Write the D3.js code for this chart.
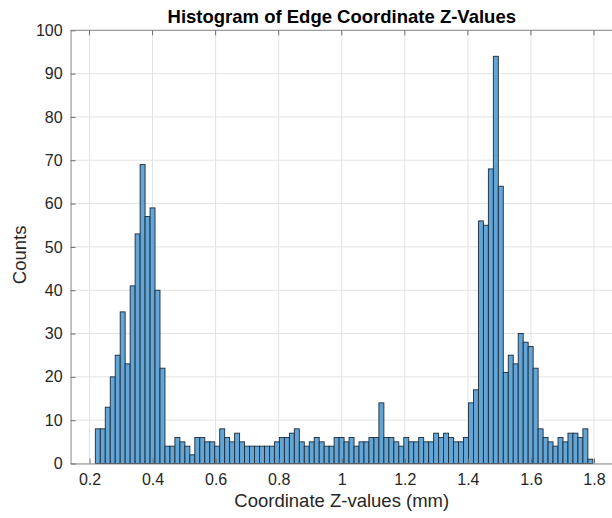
<!DOCTYPE html>
<html>
<head>
<meta charset="utf-8">
<script src="https://cdn.jsdelivr.net/npm/d3@7"></script>
<style>
  html, body { margin: 0; padding: 0; background: #fff; }
  svg { display: block; font-family: "Liberation Sans", Arial, Helvetica, sans-serif; }
</style>
</head>
<body>
<svg id="chart" width="612" height="518"></svg>
<script>
// Histogram bin counts (100 equal-width bins)
const counts = [
  8, 8, 13, 20, 25, 35, 23, 41, 53, 69,
  57, 59, 40, 22, 4, 4, 6, 5, 4, 2,
  6, 6, 5, 5, 4, 8, 6, 5, 7, 5,
  4, 4, 4, 4, 4, 4, 5, 6, 6, 7,
  8, 5, 4, 5, 6, 5, 4, 4, 6, 6,
  5, 6, 4, 5, 5, 6, 6, 14, 6, 6,
  5, 4, 6, 5, 5, 6, 5, 5, 7, 6,
  7, 6, 5, 5, 6, 14, 17, 56, 55, 68,
  94, 64, 21, 25, 23, 30, 28, 27, 22, 8,
  6, 5, 4, 6, 5, 7, 7, 6, 8, 1
];
const binStart = 0.2184;
const binWidth = 0.01578;
const xTicks = [0.2, 0.4, 0.6, 0.8, 1, 1.2, 1.4, 1.6, 1.8];
const yTicks = [0, 10, 20, 30, 40, 50, 60, 70, 80, 90, 100];
const xDomain = [0.14, 1.86];
const yDomain = [0, 100];

const bins = counts.map((c, i) => ({
  x0: binStart + i * binWidth,
  x1: binStart + (i + 1) * binWidth,
  count: c
}));

const svg = d3.select("#chart");
const plot = { left: 70.6, right: 612.9, top: 30.3, bottom: 463.5 };

const x = d3.scaleLinear().domain(xDomain).range([plot.left, plot.right]);
const y = d3.scaleLinear().domain(yDomain).range([plot.bottom, plot.top]);

// grid
const grid = svg.append("g").attr("stroke", "#e3e3e3").attr("stroke-width", 1);
grid.selectAll("line.vx").data(xTicks).join("line")
  .attr("x1", d => x(d)).attr("x2", d => x(d))
  .attr("y1", plot.top).attr("y2", plot.bottom);
grid.selectAll("line.hy").data(yTicks).join("line")
  .attr("x1", plot.left).attr("x2", plot.right)
  .attr("y1", d => y(d)).attr("y2", d => y(d));

// bars
svg.append("g").selectAll("rect").data(bins).join("rect")
  .attr("x", d => x(d.x0))
  .attr("width", d => x(d.x1) - x(d.x0))
  .attr("y", d => y(d.count))
  .attr("height", d => y(0) - y(d.count))
  .attr("fill", "#62a6d8")
  .attr("stroke", "#1e2a36")
  .attr("stroke-width", 0.9);

// axes (ticks point inward)
const xAxis = d3.axisBottom(x).tickValues(xTicks).tickSizeInner(-5).tickSizeOuter(0)
  .tickPadding(10).tickFormat(d3.format("~g"));
const gx = svg.append("g").attr("transform", `translate(0,${plot.bottom})`).call(xAxis);
const yAxis = d3.axisLeft(y).tickValues(yTicks).tickSizeInner(-5).tickSizeOuter(0)
  .tickPadding(8).tickFormat(d3.format("d"));
const gy = svg.append("g").attr("transform", `translate(${plot.left},0)`).call(yAxis);

[gx, gy].forEach(g => {
  g.select(".domain").attr("stroke", "#8a8a8a").attr("stroke-width", 1);
  g.selectAll(".tick line").attr("stroke", "#6e6e6e");
  g.selectAll(".tick text").attr("fill", "#262626")
    .style("font-size", "16px")
    .style("font-family", "'Liberation Sans', Arial, sans-serif");
});

// top frame with ticks
svg.append("line").attr("x1", plot.left).attr("x2", plot.right)
  .attr("y1", plot.top).attr("y2", plot.top)
  .attr("stroke", "#8a8a8a").attr("stroke-width", 1);
svg.append("g").selectAll("line").data(xTicks).join("line")
  .attr("x1", d => x(d)).attr("x2", d => x(d))
  .attr("y1", plot.top).attr("y2", plot.top + 5)
  .attr("stroke", "#6e6e6e");

// labels
svg.append("text")
  .attr("x", (plot.left + plot.right) / 2).attr("y", 23)
  .attr("text-anchor", "middle")
  .attr("fill", "#000")
  .style("font-weight", "bold").style("font-size", "18.5px")
  .text("Histogram of Edge Coordinate Z-Values");

svg.append("text")
  .attr("x", (plot.left + plot.right) / 2).attr("y", 507)
  .attr("text-anchor", "middle")
  .attr("fill", "#262626")
  .style("font-size", "18.5px")
  .text("Coordinate Z-values (mm)");

svg.append("text")
  .attr("transform", `translate(26,${(plot.top + plot.bottom) / 2 + 8}) rotate(-90)`)
  .attr("text-anchor", "middle")
  .attr("fill", "#262626")
  .style("font-size", "18.5px")
  .text("Counts");
</script>
</body>
</html>
